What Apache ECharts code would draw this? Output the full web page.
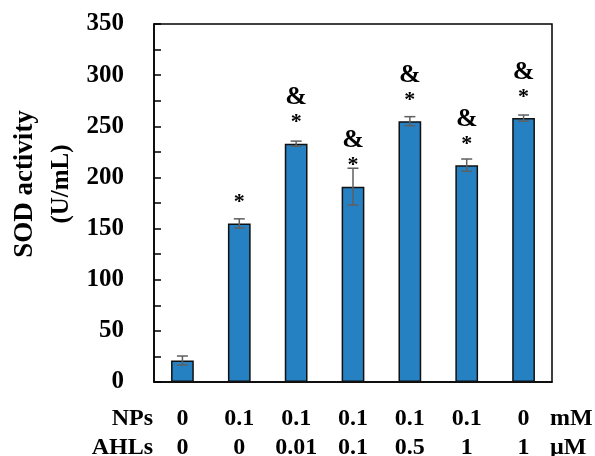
<!DOCTYPE html>
<html>
<head>
<meta charset="utf-8">
<script src="https://cdn.jsdelivr.net/npm/echarts@6/dist/echarts.min.js"></script>
<style>
html,body{margin:0;padding:0;background:#fff;}
#chart{width:595px;height:456px;}
</style>
</head>
<body>
<div id="chart"></div>
<script>
// ---- data ----
var npsValues = ['0', '0.1', '0.1', '0.1', '0.1', '0.1', '0'];
var ahlsValues = ['0', '0', '0.01', '0.1', '0.5', '1', '1'];
var sodValues = [21, 155, 233, 191, 255, 212, 258];
var sodErrors = [4.4, 4.5, 2.5, 18, 4.4, 6, 3];
var ampMarks = [false, false, true, true, true, true, true];
var starMarks = [false, true, true, true, true, true, true];
var yTicks = { min: 0, max: 350, interval: 50 };
var yName = ['SOD activity', '(U/mL)'];
var rowNames = ['NPs', 'AHLs'];
var rowUnits = ['mM', 'µM'];

var FONT = '"Liberation Serif", "Times New Roman", serif';
var categories = npsValues.map(function (v, i) { return v + '\n' + ahlsValues[i]; });

var chart = echarts.init(document.getElementById('chart'), null, { renderer: 'canvas' });

var errorData = sodValues.map(function (v, i) { return [i, v - sodErrors[i], v + sodErrors[i]]; });

var option = {
  animation: false,
  backgroundColor: '#ffffff',
  grid: { left: 154, right: 43, top: 24, bottom: 74, containLabel: false, outerBoundsMode: 'none', show: true, borderColor: '#000', borderWidth: 1.5, backgroundColor: 'transparent' },
  xAxis: {
    type: 'category',
    data: categories,
    axisLine: { lineStyle: { color: '#000', width: 1.5 } },
    axisTick: { show: false },
    axisLabel: { color: '#000', fontFamily: FONT, fontWeight: 'bold', fontSize: 24, lineHeight: 29, margin: 22, interval: 0 }
  },
  yAxis: {
    type: 'value',
    min: yTicks.min, max: yTicks.max, interval: yTicks.interval,
    axisLine: { show: true, lineStyle: { color: '#000', width: 1.5 } },
    axisTick: { show: true, inside: true, length: 7, lineStyle: { color: '#000', width: 1.5 } },
    minorTick: { show: true, splitNumber: 2, length: 7, lineStyle: { color: '#000', width: 1.5 } },
    splitLine: { show: false },
    axisLabel: { color: '#000', fontFamily: FONT, fontWeight: 'bold', fontSize: 25, margin: 30 }
  },
  series: [
    {
      type: 'bar',
      data: sodValues,
      barWidth: '40%',
      itemStyle: { color: '#2681c3', borderColor: '#111', borderWidth: 1.5 },
      label: {
        show: true,
        position: 'top',
        distance: 9,
        formatter: function (p) {
          var parts = [];
          if (ampMarks[p.dataIndex]) parts.push('{a|&}');
          if (starMarks[p.dataIndex]) parts.push('{s|*}');
          return parts.join('\n');
        },
        rich: {
          a: { color: '#000', fontFamily: FONT, fontWeight: 'bold', fontSize: 26, lineHeight: 26 },
          s: { color: '#000', fontFamily: FONT, fontWeight: 'bold', fontSize: 22, lineHeight: 24 }
        }
      },
      z: 2
    },
    {
      type: 'custom',
      data: errorData,
      z: 3,
      renderItem: function (params, api) {
        var x = api.value(0);
        var lo = api.coord([x, api.value(1)]);
        var hi = api.coord([x, api.value(2)]);
        var hw = 5.5;
        var st = { stroke: '#5f5f5f', lineWidth: 1.5 };
        return {
          type: 'group',
          children: [
            { type: 'line', shape: { x1: hi[0], y1: hi[1], x2: lo[0], y2: lo[1] }, style: st },
            { type: 'line', shape: { x1: hi[0] - hw, y1: hi[1], x2: hi[0] + hw, y2: hi[1] }, style: st },
            { type: 'line', shape: { x1: lo[0] - hw, y1: lo[1], x2: lo[0] + hw, y2: lo[1] }, style: st }
          ]
        };
      }
    }
  ],
  graphic: [
    { type: 'text', x: 25, y: 184, rotation: Math.PI / 2, style: { text: yName[0], font: 'bold 27px ' + FONT, fill: '#000', textAlign: 'center', textVerticalAlign: 'middle' } },
    { type: 'text', x: 62, y: 184, rotation: Math.PI / 2, style: { text: yName[1], font: 'bold 25px ' + FONT, fill: '#000', textAlign: 'center', textVerticalAlign: 'middle' } },
    { type: 'text', x: 153, y: 418.5, style: { text: rowNames[0], font: 'bold 24px ' + FONT, fill: '#000', textAlign: 'right', textVerticalAlign: 'middle' } },
    { type: 'text', x: 153, y: 447.5, style: { text: rowNames[1], font: 'bold 24px ' + FONT, fill: '#000', textAlign: 'right', textVerticalAlign: 'middle' } },
    { type: 'text', x: 550, y: 418.5, style: { text: rowUnits[0], font: 'bold 24px ' + FONT, fill: '#000', textAlign: 'left', textVerticalAlign: 'middle' } },
    { type: 'text', x: 550, y: 447.5, style: { text: rowUnits[1], font: 'bold 24px ' + FONT, fill: '#000', textAlign: 'left', textVerticalAlign: 'middle' } }
  ]
};
chart.setOption(option);
</script>
</body>
</html>
